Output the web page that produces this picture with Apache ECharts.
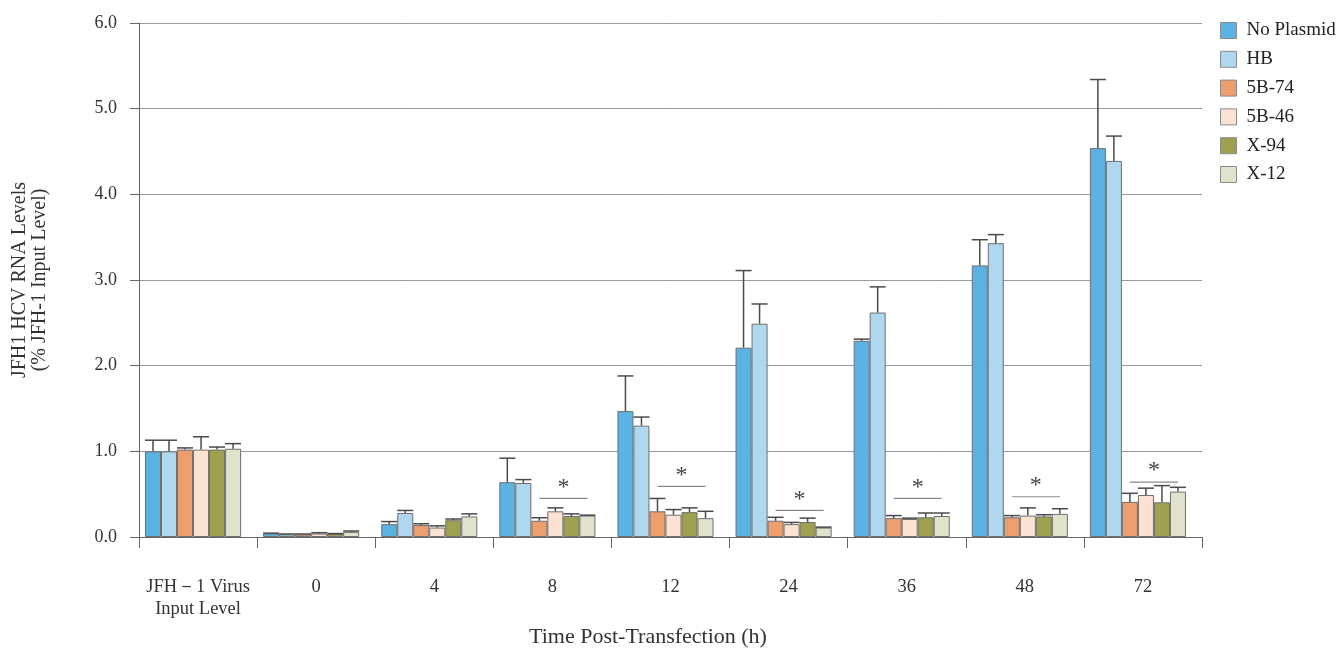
<!DOCTYPE html>
<html>
<head>
<meta charset="utf-8">
<script src="https://cdn.jsdelivr.net/npm/echarts@6/dist/echarts.min.js"></script>
<style>html,body{margin:0;padding:0;background:#fff}#c{width:1344px;height:650px}</style>
</head>
<body>
<div id="c"></div>
<script>
const categories = ['JFH－1 Virus\nInput Level', '0', '4', '8', '12', '24', '36', '48', '72'];
const seriesNames = ['No Plasmid', 'HB', '5B-74', '5B-46', 'X-94', 'X-12'];
const noPlasmid    = [1.00, 0.04, 0.15, 0.64, 1.47, 2.21, 2.29, 3.17, 4.54];
const noPlasmidErr = [1.13, 0.045, 0.18, 0.92, 1.88, 3.11, 2.31, 3.47, 5.34];
const hb           = [1.00, 0.03, 0.28, 0.63, 1.30, 2.49, 2.62, 3.43, 4.39];
const hbErr        = [1.13, 0.035, 0.31, 0.67, 1.40, 2.72, 2.92, 3.53, 4.68];
const b74          = [1.02, 0.03, 0.14, 0.19, 0.30, 0.19, 0.22, 0.23, 0.41];
const b74Err       = [1.04, 0.035, 0.155, 0.225, 0.45, 0.23, 0.25, 0.25, 0.51];
const b46          = [1.02, 0.04, 0.11, 0.30, 0.26, 0.15, 0.21, 0.25, 0.49];
const b46Err       = [1.17, 0.05, 0.13, 0.34, 0.32, 0.17, 0.22, 0.34, 0.57];
const x94          = [1.02, 0.035, 0.195, 0.245, 0.29, 0.175, 0.23, 0.24, 0.405];
const x94Err       = [1.05, 0.04, 0.21, 0.27, 0.34, 0.22, 0.28, 0.26, 0.60];
const x12          = [1.03, 0.06, 0.24, 0.25, 0.22, 0.11, 0.245, 0.27, 0.53];
const x12Err       = [1.09, 0.07, 0.27, 0.255, 0.30, 0.115, 0.28, 0.33, 0.58];
const sigCategories = ['8', '12', '24', '36', '48', '72'];
const sigLevels     = [0.45, 0.59, 0.31, 0.45, 0.47, 0.64];
const yTicks = [0, 1, 2, 3, 4, 5, 6];

const values = [noPlasmid, hb, b74, b46, x94, x12];
const errs = [noPlasmidErr, hbErr, b74Err, b46Err, x94Err, x12Err];
const colors = ['#5BB3E4', '#B0D7F0', '#EC9F6C', '#FBE2D2', '#A0A14F', '#E0E2CB'];

const BAR_W = 0.1356;   // fraction of category band
const PAD_W = 0.085;    // invisible spacer on the right
const FONT = '"Liberation Serif", "Times New Roman", serif';

function barCenter(catX, catW, k) {
  const bw = catW * BAR_W;
  const total = 6 * bw + catW * PAD_W;
  return catX - total / 2 + (k + 0.5) * bw;
}

const series = [];
values.forEach((v, k) => {
  series.push({
    name: seriesNames[k], type: 'bar', data: v, barWidth: (BAR_W * 100) + '%', barGap: 0,
    itemStyle: { color: colors[k], borderColor: '#6f6f6f', borderWidth: 1 }, z: 3, silent: true
  });
});
series.push({
  name: '_pad', type: 'bar', data: categories.map(() => '-'), barWidth: (PAD_W * 100) + '%', barGap: 0, silent: true
});
values.forEach((v, k) => {
  series.push({
    type: 'custom', z: 5, silent: true,
    data: v.map((val, i) => [i, val, errs[k][i]]),
    encode: { x: 0, y: [1, 2] },
    renderItem: function (params, api) {
      const ci = api.value(0);
      const p0 = api.coord([ci, api.value(1)]);
      const p1 = api.coord([ci, api.value(2)]);
      const catW = api.size([1, 0])[0];
      const bw = catW * BAR_W;
      const x = barCenter(p0[0], catW, k);
      const st = { stroke: '#4a4a4a', lineWidth: 1.5 };
      return {
        type: 'group', children: [
          { type: 'line', shape: { x1: x, y1: p0[1], x2: x, y2: p1[1] }, style: st },
          { type: 'line', shape: { x1: x - bw / 2, y1: p1[1], x2: x + bw / 2, y2: p1[1] }, style: st }
        ]
      };
    }
  });
});
series.push({
  type: 'custom', z: 5, silent: true,
  data: sigCategories.map((c, i) => [categories.indexOf(c), sigLevels[i]]),
  encode: { x: 0, y: 1 },
  renderItem: function (params, api) {
    const p = api.coord([api.value(0), api.value(1)]);
    const catW = api.size([1, 0])[0];
    const xa = barCenter(p[0], catW, 2);
    const xb = barCenter(p[0], catW, 5);
    return {
      type: 'group', children: [
        { type: 'line', shape: { x1: xa, y1: p[1], x2: xb, y2: p[1] }, style: { stroke: '#8a8a8a', lineWidth: 1.2 } },
        { type: 'text', style: { text: '*', x: (xa + xb) / 2, y: p[1] - 11, align: 'center', verticalAlign: 'middle',
          font: '24px ' + FONT, fill: '#444' } }
      ]
    };
  }
});

const chart = echarts.init(document.getElementById('c'), null, { renderer: 'canvas' });
chart.setOption({
  animation: false,
  backgroundColor: '#fff',
  grid: { left: 139, right: 142, top: 23, bottom: 113 },
  legend: {
    data: seriesNames, orient: 'vertical', left: 1220, top: 21, padding: 0,
    icon: 'rect', itemWidth: 16, itemHeight: 16, itemGap: 9.8,
    itemStyle: { borderColor: '#8a8a8a', borderWidth: 1 },
    textStyle: { fontFamily: FONT, fontSize: 19, lineHeight: 16, color: '#222', padding: [0, 0, 0, 5] }
  },
  xAxis: {
    type: 'category', data: categories,
    axisLine: { lineStyle: { color: '#666', width: 1 } },
    axisTick: { show: true, length: 11, lineStyle: { color: '#666' } },
    axisLabel: { margin: 39, fontFamily: FONT, fontSize: 18.5, color: '#333', lineHeight: 22, interval: 0 }
  },
  yAxis: {
    type: 'value', min: yTicks[0], max: yTicks[yTicks.length - 1], interval: 1,
    name: 'JFH1 HCV RNA Levels\n(% JFH-1 Input Level)', nameLocation: 'middle', nameGap: 89,
    nameTextStyle: { fontFamily: FONT, fontSize: 20, color: '#333', lineHeight: 20 },
    axisLine: { show: true, lineStyle: { color: '#666', width: 1 } },
    axisTick: { show: true, length: 9, lineStyle: { color: '#666' } },
    axisLabel: { margin: 22, fontFamily: FONT, fontSize: 18, color: '#333', formatter: v => v.toFixed(1) },
    splitLine: { lineStyle: { color: '#9a9a9a', width: 1 } }
  },
  graphic: [{
    type: 'text', left: 529, top: 626,
    style: { text: 'Time Post-Transfection (h)', font: '22px ' + FONT, fill: '#333' }
  }],
  series: series
});
</script>
</body>
</html>
